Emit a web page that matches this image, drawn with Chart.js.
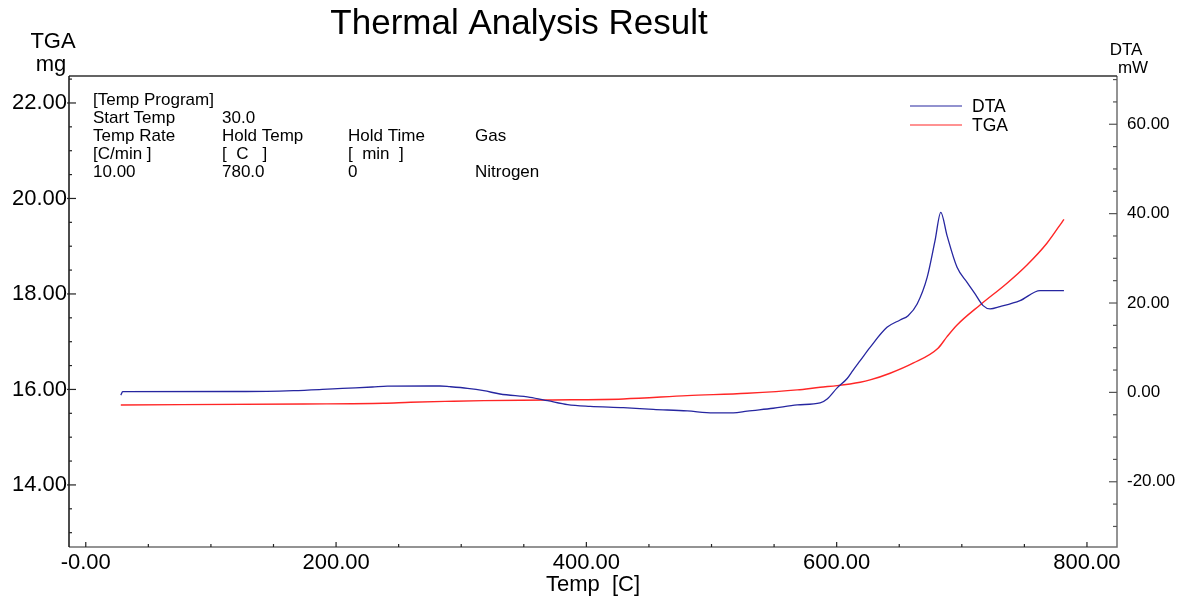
<!DOCTYPE html>
<html>
<head>
<meta charset="utf-8">
<script src="https://cdn.jsdelivr.net/npm/chart.js@4.4.1/dist/chart.umd.min.js"></script>
<style>
  html, body { margin: 0; padding: 0; background: #fff; }
  #wrap { width: 1185px; height: 599px; position: relative; }
</style>
</head>
<body>
<div id="wrap"><canvas id="c" width="1185" height="599"></canvas></div>
<script>
// ---- data ----
const dtaTemp = [28, 29.5, 128, 166, 189, 205, 229, 241, 283, 291, 305, 318, 331, 355, 369, 385, 403, 429.5, 453.5, 480.6, 501.4, 517.4, 528.5, 549.3, 568.5, 586.8, 592.4, 600.4, 608.4, 613.2, 618.8, 626.7, 640.2, 650.7, 657.1, 664.3, 672.3, 678.6, 683.2, 688.2, 696.2, 704.2, 710.6, 717, 722.6, 730.5, 746.5, 762.5, 781.6];
const dtaValues = [-0.6, 0.15, 0.2, 0.4, 0.67, 0.9, 1.2, 1.4, 1.43, 1.27, 0.9, 0.38, -0.36, -1.1, -1.86, -2.75, -3.13, -3.42, -3.8, -4.16, -4.6, -4.6, -4.2, -3.55, -2.8, -2.35, -1.48, 1.0, 3.1, 5.0, 7.1, 10.07, 14.55, 16.21, 17.17, 19.79, 25.74, 33.96, 40.3, 35.08, 27.98, 24.62, 22.02, 19.41, 18.67, 19.19, 20.53, 22.77, 22.77];

const tgaTemp = [28, 174, 238, 259.5, 294, 318, 369, 429.5, 480.6, 528.5, 568.5, 586.8, 600.4, 618.8, 626.7, 642.7, 661, 681, 688.2, 696.2, 714.6, 736.1, 752.1, 768, 781.6];
const tgaValues = [15.675, 15.696, 15.711, 15.732, 15.753, 15.765, 15.78, 15.801, 15.87, 15.92, 15.99, 16.046, 16.08, 16.151, 16.199, 16.339, 16.549, 16.863, 17.106, 17.351, 17.77, 18.225, 18.607, 19.062, 19.564];

const xTickValues = [0, 200, 400, 600, 800];
const tgaTickValues = [14, 16, 18, 20, 22];
const dtaTickValues = [-20, 0, 20, 40, 60];

const infoRows = [
  ["[Temp Program]"],
  ["Start Temp", "30.0"],
  ["Temp Rate", "Hold Temp", "Hold Time", "Gas"],
  ["[C/min ]", "[  C   ]", "[  min  ]", ""],
  ["10.00", "780.0", "0", "Nitrogen"]
];

const seriesNames = ["DTA", "TGA"];
const seriesColors = ["#2626a0", "#ff2626"];

// ---- helpers ----
const FONT = "'Liberation Sans', Arial, Helvetica, sans-serif";
function stepList(a, b, s) { const r = []; for (let v = a; v <= b + 1e-9; v += s) r.push(+v.toFixed(4)); return r; }
const xAllTicks = stepList(0, 800, 50);
const tgaAllTicks = stepList(13, 22.5, 0.5);
const dtaAllTicks = stepList(-30, 70, 5);
function isMajor(list, v) { return list.some(m => Math.abs(m - v) < 1e-6); }

const decor = {
  id: 'decor',
  afterDraw(chart) {
    const ctx = chart.ctx;
    const a = chart.chartArea;
    const sx = chart.scales.x, sl = chart.scales.yL, sr = chart.scales.yR;
    ctx.save();
    // frame
    ctx.lineWidth = 1.5;
    ctx.strokeStyle = '#707070';
    ctx.beginPath();
    ctx.moveTo(a.left, a.bottom); ctx.lineTo(a.right, a.bottom); ctx.lineTo(a.right, a.top);
    ctx.stroke();
    ctx.strokeStyle = '#303030';
    ctx.beginPath();
    ctx.moveTo(a.right, a.top); ctx.lineTo(a.left, a.top);
    ctx.stroke();
    ctx.strokeStyle = '#111';
    ctx.beginPath();
    ctx.moveTo(a.left, a.top); ctx.lineTo(a.left, a.bottom);
    ctx.stroke();
    // inward ticks
    ctx.lineWidth = 1.2;
    ctx.strokeStyle = '#222';
    xAllTicks.forEach(v => {
      const p = sx.getPixelForValue(v);
      const len = isMajor(xTickValues, v) ? 5 : 3;
      ctx.beginPath(); ctx.moveTo(p, a.bottom); ctx.lineTo(p, a.bottom - len); ctx.stroke();
    });
    tgaAllTicks.forEach(v => {
      const p = sl.getPixelForValue(v);
      const maj = isMajor(tgaTickValues, v);
      ctx.beginPath(); ctx.moveTo(a.left - (maj ? 2 : 0), p); ctx.lineTo(a.left + (maj ? 7 : 3), p); ctx.stroke();
    });
    ctx.strokeStyle = '#555';
    dtaAllTicks.forEach(v => {
      const p = sr.getPixelForValue(v);
      const maj = isMajor(dtaTickValues, v);
      ctx.beginPath(); ctx.moveTo(a.right, p); ctx.lineTo(a.right - (maj ? 8 : 4), p); ctx.stroke();
    });
    // texts
    ctx.fillStyle = '#000';
    ctx.textBaseline = 'alphabetic';
    ctx.textAlign = 'center';
    ctx.font = '35px ' + FONT;
    ctx.fillText('Thermal Analysis Result', 519, 34);
    ctx.font = '22px ' + FONT;
    ctx.fillText('TGA', 53, 48);
    ctx.fillText('mg', 51, 71);
    ctx.font = '17px ' + FONT;
    ctx.fillText('DTA', 1126, 55);
    ctx.fillText('mW', 1133, 73);
    ctx.font = '22px ' + FONT;
    ctx.fillText('Temp  [C]', 593, 591);
    // info block
    ctx.textAlign = 'left';
    ctx.font = '17px ' + FONT;
    const cols = [93, 222, 348, 475];
    infoRows.forEach((row, i) => {
      row.forEach((t, j) => ctx.fillText(t, cols[j], 105 + i * 18));
    });
    // legend
    const ly = [106, 125];
    ctx.font = '17.5px ' + FONT;
    seriesNames.forEach((n, i) => {
      ctx.strokeStyle = seriesColors[i];
      ctx.lineWidth = 1.2;
      ctx.beginPath(); ctx.moveTo(910, ly[i]); ctx.lineTo(962, ly[i]); ctx.stroke();
      ctx.fillStyle = '#000';
      ctx.fillText(n, 972, ly[i] + 6);
    });
    ctx.restore();
  }
};

new Chart(document.getElementById('c'), {
  type: 'line',
  data: {
    datasets: [
      {
        label: seriesNames[0],
        data: dtaTemp.map((t, i) => ({ x: t, y: dtaValues[i] })),
        yAxisID: 'yR',
        borderColor: seriesColors[0],
        borderWidth: 1.3,
        pointRadius: 0,
        cubicInterpolationMode: 'monotone',
        fill: false
      },
      {
        label: seriesNames[1],
        data: tgaTemp.map((t, i) => ({ x: t, y: tgaValues[i] })),
        yAxisID: 'yL',
        borderColor: seriesColors[1],
        borderWidth: 1.4,
        pointRadius: 0,
        cubicInterpolationMode: 'monotone',
        fill: false
      }
    ]
  },
  options: {
    responsive: false,
    animation: false,
    devicePixelRatio: 1,
    layout: { padding: { top: 76, left: 0, right: 0, bottom: 0 } },
    plugins: { legend: { display: false }, title: { display: false }, tooltip: { enabled: false } },
    scales: {
      x: {
        type: 'linear',
        position: 'bottom',
        min: -13.4, max: 824,
        afterBuildTicks: s => { s.ticks = xTickValues.map(v => ({ value: v })); },
        afterFit: s => { s.height = 52; },
        grid: { display: false, drawTicks: false },
        border: { display: false },
        ticks: {
          autoSkip: false, maxRotation: 0, padding: 3,
          color: '#000',
          font: { family: FONT, size: 22 },
          callback: v => (Math.abs(v) < 1e-9 ? '-0.00' : v.toFixed(2))
        }
      },
      yL: {
        type: 'linear',
        position: 'left',
        min: 12.70, max: 22.565,
        afterBuildTicks: s => { s.ticks = tgaTickValues.map(v => ({ value: v })); },
        afterFit: s => { s.width = 69; },
        grid: { display: false, drawTicks: false },
        border: { display: false },
        ticks: {
          autoSkip: false, padding: 2,
          color: '#000',
          font: { family: FONT, size: 22 },
          callback: v => v.toFixed(2)
        }
      },
      yR: {
        type: 'linear',
        position: 'right',
        min: -34.6, max: 70.8,
        afterBuildTicks: s => { s.ticks = dtaTickValues.map(v => ({ value: v })); },
        afterFit: s => { s.width = 68; },
        grid: { display: false, drawTicks: false },
        border: { display: false },
        ticks: {
          autoSkip: false, padding: 10,
          color: '#000',
          font: { family: FONT, size: 17 },
          callback: v => (Math.abs(v) < 1e-9 ? '0.00' : v.toFixed(2))
        }
      }
    }
  },
  plugins: [decor]
});
</script>
</body>
</html>
